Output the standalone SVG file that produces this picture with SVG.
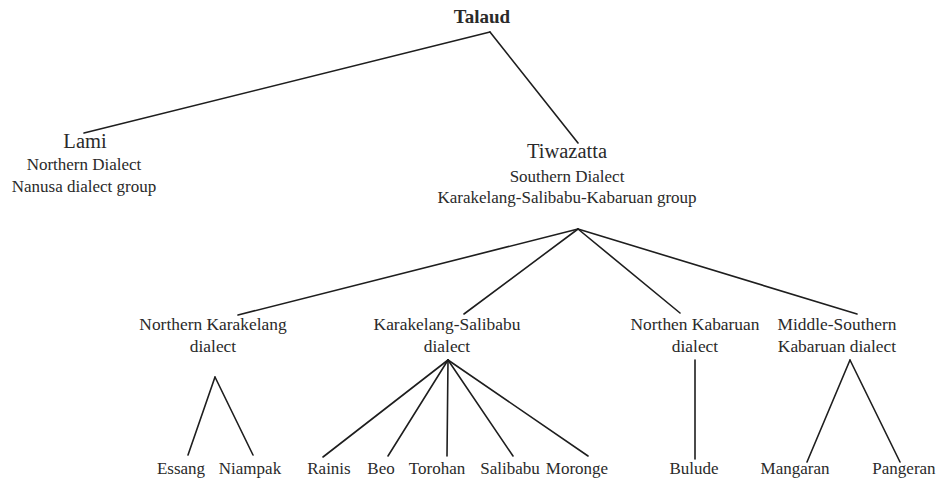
<svg xmlns="http://www.w3.org/2000/svg" width="939" height="481" viewBox="0 0 939 481">
<style>
text{font-family:"Liberation Serif","DejaVu Serif",serif;fill:#2a2a2a;text-anchor:middle}
.t{font-size:19px;font-weight:bold}
.l1{font-size:20.5px}
.s{font-size:17px}
.m{font-size:17.4px}
.b{font-size:17px}
.c line{stroke:#1e1e1e;stroke-width:1.6;stroke-linecap:round}
</style>
<rect width="939" height="481" fill="#fff"/>
<g class="c" id="connectors">
<line x1="490" y1="32" x2="84" y2="133"/>
<line x1="490" y1="32" x2="578" y2="143"/>
<line x1="578" y1="229" x2="238" y2="315"/>
<line x1="578" y1="229" x2="464" y2="314"/>
<line x1="578" y1="229" x2="680" y2="313"/>
<line x1="578" y1="229" x2="857" y2="314"/>
<line x1="215" y1="377" x2="188" y2="455"/>
<line x1="215" y1="377" x2="253" y2="455"/>
<line x1="448" y1="360" x2="323" y2="457"/>
<line x1="448" y1="360" x2="388" y2="456"/>
<line x1="448" y1="360" x2="447" y2="456"/>
<line x1="448" y1="360" x2="513" y2="456"/>
<line x1="448" y1="360" x2="588" y2="456"/>
<line x1="695" y1="360" x2="695" y2="459"/>
<line x1="850" y1="360" x2="807" y2="462"/>
<line x1="850" y1="360" x2="900" y2="462"/>
</g>
<g id="talaud"><text class="t" x="482" y="23">Talaud</text></g>
<g id="lami">
<text class="l1" x="85" y="148">Lami</text>
<text class="s" x="84" y="170">Northern Dialect</text>
<text class="s" x="84" y="192">Nanusa dialect group</text>
</g>
<g id="tiwazatta">
<text class="l1" x="567" y="158">Tiwazatta</text>
<text class="s" x="567" y="182">Southern Dialect</text>
<text class="s" x="567" y="203">Karakelang-Salibabu-Kabaruan group</text>
</g>
<g id="northern-karakelang">
<text class="m" x="213" y="330">Northern Karakelang</text>
<text class="m" x="213" y="352">dialect</text>
</g>
<g id="karakelang-salibabu">
<text class="m" x="447" y="330">Karakelang-Salibabu</text>
<text class="m" x="447" y="352">dialect</text>
</g>
<g id="northen-kabaruan">
<text class="m" x="695" y="330">Northen Kabaruan</text>
<text class="m" x="695" y="352">dialect</text>
</g>
<g id="middle-southern">
<text class="m" x="837" y="330">Middle-Southern</text>
<text class="m" x="837" y="352">Kabaruan dialect</text>
</g>
<g id="essang"><text class="b" x="181" y="474">Essang</text></g>
<g id="niampak"><text class="b" x="250" y="474">Niampak</text></g>
<g id="rainis"><text class="b" x="329" y="474">Rainis</text></g>
<g id="beo"><text class="b" x="381" y="474">Beo</text></g>
<g id="torohan"><text class="b" x="437" y="474">Torohan</text></g>
<g id="salibabu"><text class="b" x="510" y="474">Salibabu</text></g>
<g id="moronge"><text class="b" x="577" y="474">Moronge</text></g>
<g id="bulude"><text class="b" x="694" y="474">Bulude</text></g>
<g id="mangaran"><text class="b" x="795" y="474">Mangaran</text></g>
<g id="pangeran"><text class="b" x="904" y="474">Pangeran</text></g>
</svg>
